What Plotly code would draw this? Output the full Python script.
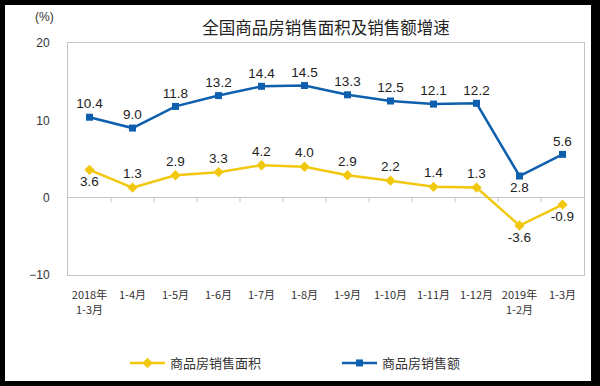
import plotly.graph_objects as go

categories = ["2018年<br>1-3月", "1-4月", "1-5月", "1-6月", "1-7月", "1-8月",
              "1-9月", "1-10月", "1-11月", "1-12月", "2019年<br>1-2月", "1-3月"]
area_growth = [3.6, 1.3, 2.9, 3.3, 4.2, 4.0, 2.9, 2.2, 1.4, 1.3, -3.6, -0.9]
sales_growth = [10.4, 9.0, 11.8, 13.2, 14.4, 14.5, 13.3, 12.5, 12.1, 12.2, 2.8, 5.6]
y_ticks = [20, 10, 0, -10]

area_pos = ["bottom center" if i in (0, 10, 11) else "top center" for i in range(len(area_growth))]
sales_pos = ["bottom center" if i == 10 else "top center" for i in range(len(sales_growth))]

YELLOW = "#F2C80F"
BLUE = "#0E5FAE"
GRAY = "#C4C4C4"

W, H = 600, 386
ML, MR, MT, MB = 68, 16, 43, 111
PW, PH = W - ML - MR, H - MT - MB

def px_x(px):
    return (px - ML) / PW

def px_y(py):
    return (H - MB - py) / PH

fig = go.Figure()
fig.add_trace(go.Scatter(
    x=list(range(len(categories))), y=area_growth, name="商品房销售面积",
    mode="lines+markers+text", text=[f"{v:.1f}" for v in area_growth],
    textposition=area_pos, textfont=dict(size=13.5, color="#222", family="Liberation Sans"),
    line=dict(color=YELLOW, width=2.5), marker=dict(symbol="diamond", size=8, color=YELLOW),
    cliponaxis=False, legend="legend"))
fig.add_trace(go.Scatter(
    x=list(range(len(categories))), y=sales_growth, name="商品房销售额",
    mode="lines+markers+text", text=[f"{v:.1f}" for v in sales_growth],
    textposition=sales_pos, textfont=dict(size=13.5, color="#222", family="Liberation Sans"),
    line=dict(color=BLUE, width=2.5), marker=dict(symbol="square", size=7, color=BLUE),
    cliponaxis=False, legend="legend2"))

shapes = []
# white photo area on a black frame
shapes.append(dict(type="rect", xref="paper", yref="paper", fillcolor="white",
                   line=dict(width=0), layer="below",
                   x0=px_x(5), x1=px_x(591), y0=px_y(381), y1=px_y(5)))
# category boundary tick marks on the zero line
for i in range(len(categories) - 1):
    shapes.append(dict(type="line", xref="x", yref="y", x0=i + 0.5, x1=i + 0.5,
                       y0=0, y1=-0.6, line=dict(color=GRAY, width=1)))

leg_common = dict(orientation="h", yanchor="middle", y=px_y(363), xanchor="left",
                  font=dict(size=13, color="#333"), itemwidth=35,
                  bgcolor="rgba(0,0,0,0)")

fig.update_layout(
    width=W, height=H, margin=dict(l=ML, r=MR, t=MT, b=MB, autoexpand=False),
    paper_bgcolor="black", plot_bgcolor="rgba(0,0,0,0)",
    font=dict(family="Noto Sans CJK SC", color="#333"),
    title=dict(text="全国商品房销售面积及销售额增速", x=(ML + PW / 2) / W, xanchor="center",
               y=1 - 28 / H, yanchor="middle", font=dict(size=16.5, color="#222")),
    xaxis=dict(range=[-0.5, len(categories) - 0.5], tickvals=list(range(len(categories))),
               ticktext=categories, showgrid=False, zeroline=False, showline=True, mirror=True,
               linecolor=GRAY, linewidth=1, ticks="", tickfont=dict(size=11, color="#333"),
               ticklabelstandoff=10, automargin=False),
    yaxis=dict(range=[-10, 20], tickvals=y_ticks, showgrid=False, zeroline=True,
               zerolinecolor=GRAY, zerolinewidth=1, showline=True, mirror=True,
               linecolor=GRAY, linewidth=1, ticks="", tickfont=dict(size=12, color="#333",
               family="Liberation Sans"), ticklabelstandoff=15, automargin=False),
    legend=dict(leg_common, x=px_x(125)),
    legend2=dict(leg_common, x=px_x(337)),
    annotations=[dict(text="(%)", xref="paper", yref="paper", x=px_x(44), y=px_y(17),
                      xanchor="center", yanchor="middle", showarrow=False,
                      font=dict(size=12, color="#333", family="Liberation Sans"))],
    shapes=shapes,
    showlegend=True,
)

fig.write_html("out.html", config={"displayModeBar": False},
               post_script="document.body.style.margin='0';document.body.style.overflow='hidden';")
